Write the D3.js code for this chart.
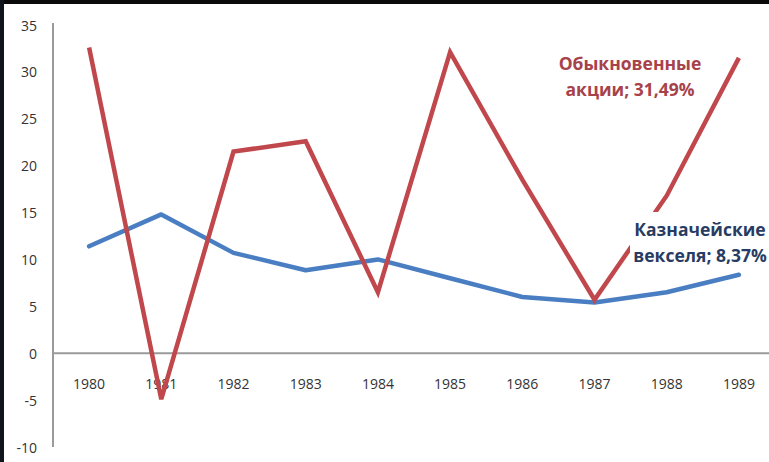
<!DOCTYPE html>
<html>
<head>
<meta charset="utf-8">
<script src="https://cdn.jsdelivr.net/npm/d3@7"></script>
<style>
  html, body { margin: 0; padding: 0; background: #ffffff; }
  svg { display: block; }
</style>
</head>
<body>
<svg id="chart" width="769" height="462"></svg>
<script>
// Годы и доходности (%)
const years = ["1980","1981","1982","1983","1984","1985","1986","1987","1988","1989"];
const stocks = [32.6, -4.9, 21.5, 22.6, 6.5, 32.1, 18.5, 5.7, 16.8, 31.49];
const bills  = [11.4, 14.8, 10.7, 8.85, 10.0, 8.0, 6.0, 5.4, 6.5, 8.37];
const yTicks = [35, 30, 25, 20, 15, 10, 5, 0, -5, -10];

const stocksLabel = ["Обыкновенные", "акции; 31,49%"];
const billsLabel  = ["Казначейские", "векселя; 8,37%"];

const svg = d3.select("#chart");
const W = 769, H = 462;

svg.append("rect").attr("width", W).attr("height", H).attr("fill", "#ffffff");

const x = d3.scaleBand().domain(years).range([53, 775]);
const y = d3.scaleLinear().domain([-10, 35]).range([447, 25]);
const cx = d => x(d) + x.bandwidth() / 2;

const font = "'Open Sans', 'Noto Sans', sans-serif";

// Подписи оси значений
svg.append("g").selectAll("text").data(yTicks).join("text")
  .attr("x", 37).attr("y", d => y(d))
  .attr("text-anchor", "end").attr("dominant-baseline", "central")
  .attr("font-family", font).attr("font-size", 14).attr("fill", "#333")
  .text(d => d);

// Подписи годов под нулевой линией
svg.append("g").selectAll("text").data(years).join("text")
  .attr("x", d => cx(d)).attr("y", 383)
  .attr("text-anchor", "middle").attr("dominant-baseline", "central")
  .attr("font-family", font).attr("font-size", 14).attr("fill", "#333")
  .text(d => d);

// Оси
svg.append("line")
  .attr("x1", 53).attr("x2", 53).attr("y1", y(35) - 2).attr("y2", y(-10))
  .attr("stroke", "#9a9a9a").attr("stroke-width", 2);
svg.append("line")
  .attr("x1", 53).attr("x2", W).attr("y1", y(0)).attr("y2", y(0))
  .attr("stroke", "#9a9a9a").attr("stroke-width", 2);

const line = d3.line().x((d, i) => cx(years[i])).y(d => y(d));

svg.append("path").datum(bills)
  .attr("d", line).attr("fill", "none")
  .attr("stroke", "#4a7ec2").attr("stroke-width", 4.5)
  .attr("stroke-linejoin", "round").attr("stroke-linecap", "round");

svg.append("path").datum(stocks)
  .attr("d", line).attr("fill", "none")
  .attr("stroke", "#c0474b").attr("stroke-width", 4.5)
  .attr("stroke-linejoin", "miter").attr("stroke-linecap", "butt");

// Подписи рядов на белой подложке
function seriesLabel(lines, xc, y0, color) {
  const g = svg.append("g");
  g.append("rect").attr("x", xc - 70).attr("y", y0 - 17)
    .attr("width", 140).attr("height", 58).attr("fill", "#ffffff");
  g.selectAll("text").data(lines).join("text")
    .attr("x", xc).attr("y", (d, i) => y0 + i * 26)
    .attr("text-anchor", "middle").attr("dominant-baseline", "central")
    .attr("font-family", font).attr("font-weight", "bold")
    .attr("font-size", 17.5).attr("fill", color)
    .text(d => d);
  return g;
}
seriesLabel(stocksLabel, 630, 63, "#a8424a");
seriesLabel(billsLabel, 700, 229, "#283c63");

// Тёмная рамка сверху и слева
svg.append("rect").attr("x", 0).attr("y", 0).attr("width", W).attr("height", 4).attr("fill", "#0a0a0a");
svg.append("rect").attr("x", 0).attr("y", 0).attr("width", 4).attr("height", H).attr("fill", "#10141c");
</script>
</body>
</html>
